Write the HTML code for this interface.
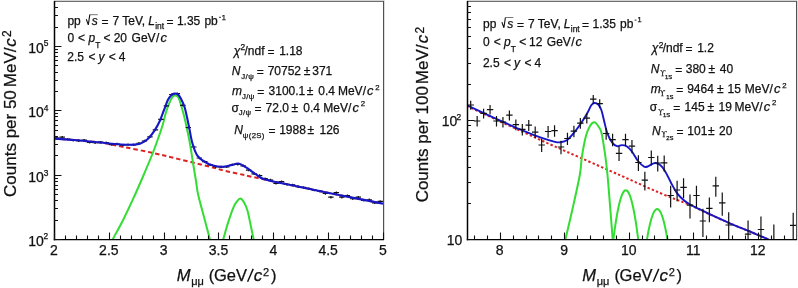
<!DOCTYPE html>
<html><head><meta charset="utf-8"><style>
html,body{margin:0;padding:0;background:#fff;}
body{width:798px;height:288px;overflow:hidden;}
svg{display:block;}
text{-webkit-font-smoothing:antialiased;stroke:#111;stroke-width:0.25px;}
svg{will-change:transform;}
</style></head><body>
<svg width="798" height="288" viewBox="0 0 798 288" font-family='"Liberation Sans", sans-serif' fill="#111">
<rect width="798" height="288" fill="#fff"/>
<defs><clipPath id="cl"><rect x="55" y="2" width="328" height="237"/></clipPath><clipPath id="cr"><rect x="468" y="2" width="328" height="237"/></clipPath></defs>
<g clip-path="url(#cl)" fill="none" stroke-linejoin="round">
<path d="M54.00,138.50 C57.83,138.80 69.33,139.63 77.00,140.30 C84.67,140.97 92.23,141.38 100.00,142.50 C107.77,143.62 114.80,145.27 123.60,147.00 C132.40,148.73 143.77,150.92 152.80,152.90 C161.83,154.88 168.27,156.60 177.80,158.90 C187.33,161.20 202.32,164.75 210.00,166.70 C217.68,168.65 219.03,169.40 223.90,170.60 C228.77,171.80 234.12,172.78 239.20,173.90 C244.28,175.02 244.65,175.20 254.40,177.30 C264.15,179.40 283.43,183.52 297.70,186.50 C311.97,189.48 325.78,192.35 340.00,195.20 C354.22,198.05 375.83,202.20 383.00,203.60" stroke="#dd2222" stroke-width="2" stroke-dasharray="4.4 2.9"/>
<path d="M112.60,239.50 C114.33,236.28 119.60,226.92 123.00,220.20 C126.40,213.48 129.67,206.48 133.00,199.20 C136.33,191.92 139.67,184.28 143.00,176.50 C146.33,168.72 150.38,159.13 153.00,152.50 C155.62,145.87 157.10,141.42 158.75,136.70 C160.40,131.98 161.69,128.28 162.90,124.20 C164.11,120.12 164.95,115.68 166.00,112.20 C167.05,108.72 168.15,105.80 169.20,103.30 C170.25,100.80 171.33,98.48 172.30,97.20 C173.27,95.92 173.97,95.53 175.00,95.60 C176.03,95.67 177.32,95.40 178.50,97.60 C179.68,99.80 181.05,105.23 182.10,108.80 C183.15,112.37 183.98,115.63 184.80,119.00 C185.62,122.37 186.22,125.33 187.00,129.00 C187.78,132.67 188.75,137.00 189.50,141.00 C190.25,145.00 190.83,148.83 191.50,153.00 C192.17,157.17 192.75,161.33 193.50,166.00 C194.25,170.67 195.25,176.33 196.00,181.00 C196.75,185.67 196.67,188.00 198.00,194.00 C199.33,200.00 202.00,209.42 204.00,217.00 C206.00,224.58 209.00,235.75 210.00,239.50" stroke="#33dd33" stroke-width="2"/>
<path d="M223.20,239.50 C224.07,236.52 226.65,227.05 228.40,221.60 C230.15,216.15 232.30,210.13 233.70,206.80 C235.10,203.47 235.70,202.97 236.80,201.60 C237.90,200.23 239.08,198.47 240.30,198.60 C241.52,198.73 242.88,200.32 244.10,202.40 C245.32,204.48 246.45,207.03 247.60,211.10 C248.75,215.17 249.98,222.07 251.00,226.80 C252.02,231.53 253.25,237.38 253.70,239.50" stroke="#33dd33" stroke-width="2"/>
<path d="M54.04,138.19 H59.44 M56.74,136.99 V139.39 M59.52,137.20 H64.92 M62.22,136.00 V138.40 M65.01,139.31 H70.41 M67.71,138.11 V140.51 M70.49,140.21 H75.89 M73.19,139.01 V141.41 M75.97,140.71 H81.37 M78.67,139.51 V141.91 M81.45,140.12 H86.86 M84.16,138.92 V141.32 M86.94,142.30 H92.34 M89.64,141.10 V143.50 M92.42,142.71 H97.82 M95.12,141.51 V143.91 M97.90,142.08 H103.30 M100.60,140.88 V143.28 M103.39,142.58 H108.79 M106.09,141.38 V143.78 M108.87,144.65 H114.27 M111.57,143.45 V145.85 M114.35,144.06 H119.75 M117.05,142.86 V145.26 M119.84,145.11 H125.24 M122.54,143.91 V146.31 M125.32,144.64 H130.72 M128.02,143.44 V145.84 M130.80,144.89 H136.20 M133.50,143.69 V146.09 M136.28,143.24 H141.68 M138.98,142.04 V144.44 M141.77,141.00 H147.17 M144.47,139.80 V142.20 M147.25,136.90 H152.65 M149.95,135.70 V138.10 M152.73,129.80 H158.13 M155.43,128.60 V131.00 M158.22,119.40 H163.62 M160.92,118.20 V120.60 M163.70,105.80 H169.10 M166.40,104.60 V107.00 M169.18,94.50 H174.58 M171.88,93.30 V95.70 M174.67,93.70 H180.07 M177.37,92.50 V94.90 M180.15,105.30 H185.55 M182.85,104.10 V106.50 M185.63,127.50 H191.03 M188.33,126.30 V128.70 M191.12,147.00 H196.51 M193.81,145.80 V148.20 M196.60,158.00 H202.00 M199.30,156.80 V159.20 M202.08,161.65 H207.48 M204.78,160.45 V162.85 M207.56,164.85 H212.96 M210.26,163.65 V166.05 M213.05,166.70 H218.45 M215.75,165.50 V167.90 M218.53,167.07 H223.93 M221.23,165.87 V168.27 M224.01,166.88 H229.41 M226.71,165.68 V168.08 M229.50,164.76 H234.90 M232.20,163.56 V165.96 M234.98,164.29 H240.38 M237.68,163.09 V165.49 M240.46,165.78 H245.86 M243.16,164.58 V166.98 M245.95,170.06 H251.34 M248.65,168.86 V171.26 M251.43,173.79 H256.83 M254.13,172.59 V174.99 M256.91,175.55 H262.31 M259.61,174.35 V176.75 M262.39,178.69 H267.79 M265.09,177.49 V179.89 M267.88,180.04 H273.28 M270.58,178.84 V181.24 M273.36,183.40 H278.76 M276.06,182.20 V184.60 M278.84,181.60 H284.24 M281.54,180.40 V182.80 M284.33,184.44 H289.73 M287.03,183.24 V185.64 M289.81,184.97 H295.21 M292.51,183.77 V186.17 M295.29,186.57 H300.69 M297.99,185.37 V187.77 M300.77,187.46 H306.17 M303.47,186.26 V188.66 M306.26,188.52 H311.66 M308.96,187.32 V189.72 M311.74,190.11 H317.14 M314.44,188.91 V191.31 M317.22,191.24 H322.62 M319.92,190.04 V192.44 M322.71,193.50 H328.11 M325.41,192.30 V194.70 M328.19,197.20 H333.59 M330.89,196.00 V198.40 M333.67,192.70 H339.07 M336.37,191.50 V193.90 M339.16,197.20 H344.56 M341.86,196.00 V198.40 M344.64,195.60 H350.04 M347.34,194.40 V196.80 M350.12,198.75 H355.52 M352.82,197.55 V199.95 M355.61,197.20 H361.00 M358.31,196.00 V198.40 M361.09,200.30 H366.49 M363.79,199.10 V201.50 M366.57,199.80 H371.97 M369.27,198.60 V201.00 M372.05,202.90 H377.45 M374.75,201.70 V204.10 M377.54,201.40 H382.94 M380.24,200.20 V202.60 " stroke="#111" stroke-width="1.2"/>
<path d="M54.00,138.50 C57.83,138.80 69.33,139.63 77.00,140.30 C84.67,140.97 93.67,141.88 100.00,142.50 C106.33,143.12 110.50,143.63 115.00,144.00 C119.50,144.37 123.83,144.60 127.00,144.70 C130.17,144.80 131.83,144.75 134.00,144.60 C136.17,144.45 138.33,144.30 140.00,143.80 C141.67,143.30 142.62,142.47 144.00,141.60 C145.38,140.73 146.55,140.43 148.30,138.60 C150.05,136.77 152.58,133.53 154.50,130.60 C156.42,127.67 158.22,124.43 159.80,121.00 C161.38,117.57 162.63,113.53 164.00,110.00 C165.37,106.47 166.78,102.27 168.00,99.80 C169.22,97.33 170.22,96.23 171.30,95.20 C172.38,94.17 173.42,93.73 174.50,93.60 C175.58,93.47 176.72,93.53 177.80,94.40 C178.88,95.27 179.85,96.62 181.00,98.80 C182.15,100.98 183.38,102.95 184.70,107.50 C186.02,112.05 187.65,120.27 188.90,126.10 C190.15,131.93 190.82,137.63 192.20,142.50 C193.58,147.37 194.97,151.98 197.20,155.30 C199.43,158.62 202.97,160.68 205.60,162.40 C208.23,164.12 210.18,164.87 213.00,165.60 C215.82,166.33 219.53,166.85 222.50,166.80 C225.47,166.75 228.13,165.85 230.80,165.30 C233.47,164.75 235.95,163.15 238.50,163.50 C241.05,163.85 243.22,165.62 246.10,167.40 C248.98,169.18 252.65,172.20 255.80,174.20 C258.95,176.20 258.02,177.35 265.00,179.40 C271.98,181.45 285.20,183.87 297.70,186.50 C310.20,189.13 325.78,192.35 340.00,195.20 C354.22,198.05 375.83,202.20 383.00,203.60" stroke="#1717c6" stroke-width="2.1"/>
</g>
<line x1="54" y1="0.5" x2="384.5" y2="0.5" stroke="#d4d4d4" stroke-width="1"/>
<line x1="54" y1="1.5" x2="384" y2="1.5" stroke="#6e6e6e" stroke-width="1"/>
<line x1="383.6" y1="1" x2="383.6" y2="240" stroke="#505050" stroke-width="1.2"/>
<line x1="54.5" y1="1" x2="54.5" y2="240.3" stroke="#000" stroke-width="1.5"/>
<line x1="53.8" y1="239.6" x2="384" y2="239.6" stroke="#000" stroke-width="1.45"/>
<path d="M54.5,239 V232.5 M65.5,239 V235.5 M76.5,239 V235.5 M87.5,239 V235.5 M98.5,239 V235.5 M109.5,239 V232.5 M120.5,239 V235.5 M131.5,239 V235.5 M142.5,239 V235.5 M153.5,239 V235.5 M164.5,239 V232.5 M175.5,239 V235.5 M186.5,239 V235.5 M197.5,239 V235.5 M208.5,239 V235.5 M218.5,239 V232.5 M229.5,239 V235.5 M240.5,239 V235.5 M251.5,239 V235.5 M262.5,239 V235.5 M273.5,239 V232.5 M284.5,239 V235.5 M295.5,239 V235.5 M306.5,239 V235.5 M317.5,239 V235.5 M328.5,239 V232.5 M339.5,239 V235.5 M350.5,239 V235.5 M361.5,239 V235.5 M372.5,239 V235.5 M383.5,239 V232.5 " stroke="#111" stroke-width="1.1" fill="none"/>
<path d="M54,239.5 H61.5 M54,220.5 H58.0 M54,208.5 H58.0 M54,200.5 H58.0 M54,194.5 H58.0 M54,189.5 H58.0 M54,185.5 H58.0 M54,181.5 H58.0 M54,178.5 H58.0 M54,175.5 H61.5 M54,155.5 H58.0 M54,144.5 H58.0 M54,136.5 H58.0 M54,130.5 H58.0 M54,125.5 H58.0 M54,120.5 H58.0 M54,116.5 H58.0 M54,113.5 H58.0 M54,110.5 H61.5 M54,91.5 H58.0 M54,80.5 H58.0 M54,72.5 H58.0 M54,65.5 H58.0 M54,60.5 H58.0 M54,56.5 H58.0 M54,52.5 H58.0 M54,49.5 H58.0 M54,46.5 H61.5 M54,27.5 H58.0 M54,15.5 H58.0 M54,7.5 H58.0 " stroke="#111" stroke-width="1.1" fill="none"/>
<g clip-path="url(#cr)" fill="none" stroke-linejoin="round">
<path d="M467.00,106.00 C476.33,110.33 506.47,124.42 523.00,132.00 C539.53,139.58 550.03,144.30 566.20,151.50 C582.37,158.70 604.37,168.28 620.00,175.20 C635.63,182.12 648.47,188.10 660.00,193.00 C671.53,197.90 682.87,201.95 689.20,204.60 C695.53,207.25 694.77,207.37 698.00,208.90 C701.23,210.43 703.27,211.38 708.60,213.80 C713.93,216.22 723.10,220.43 730.00,223.40 C736.90,226.37 743.00,228.65 750.00,231.60 C757.00,234.55 768.33,239.52 772.00,241.10" stroke="#dd2222" stroke-width="2" stroke-dasharray="2.4 2.2"/>
<path d="M565.40,239.50 C566.58,234.42 570.10,219.75 572.50,209.00 C574.90,198.25 578.23,183.72 579.80,175.00 C581.37,166.28 580.87,163.23 581.90,156.70 C582.93,150.17 584.65,140.92 586.00,135.80 C587.35,130.68 588.60,128.25 590.00,126.00 C591.40,123.75 592.98,122.22 594.40,122.30 C595.82,122.38 597.28,124.59 598.50,126.50 C599.72,128.41 600.55,128.72 601.70,133.75 C602.85,138.78 604.43,149.82 605.40,156.70 C606.37,163.57 606.73,166.95 607.50,175.00 C608.27,183.05 609.13,194.25 610.00,205.00 C610.87,215.75 612.25,233.75 612.70,239.50" stroke="#33dd33" stroke-width="2"/>
<path d="M613.20,240.69 C613.50,238.45 614.40,231.41 615.00,227.29 C615.60,223.17 616.20,219.39 616.80,215.96 C617.40,212.52 618.00,209.43 618.60,206.69 C619.20,203.94 619.80,201.53 620.40,199.47 C621.00,197.41 621.60,195.70 622.20,194.32 C622.80,192.95 623.40,191.92 624.00,191.23 C624.60,190.54 625.20,190.20 625.80,190.20 C626.40,190.20 627.00,190.54 627.60,191.23 C628.20,191.92 628.80,192.95 629.40,194.32 C630.00,195.70 630.60,197.41 631.20,199.47 C631.80,201.53 632.40,203.94 633.00,206.69 C633.60,209.43 634.20,212.52 634.80,215.96 C635.40,219.39 636.00,223.17 636.60,227.29 C637.20,231.41 638.10,238.45 638.40,240.69" stroke="#33dd33" stroke-width="2"/>
<path d="M646.80,240.37 C647.05,238.98 647.79,234.61 648.29,232.04 C648.78,229.48 649.28,227.14 649.77,225.00 C650.27,222.87 650.76,220.95 651.26,219.24 C651.75,217.54 652.25,216.04 652.74,214.76 C653.24,213.48 653.73,212.41 654.23,211.56 C654.72,210.71 655.22,210.07 655.71,209.64 C656.21,209.21 656.70,209.00 657.20,209.00 C657.70,209.00 658.19,209.21 658.69,209.64 C659.18,210.07 659.68,210.71 660.17,211.56 C660.67,212.41 661.16,213.48 661.66,214.76 C662.15,216.04 662.65,217.54 663.14,219.24 C663.64,220.95 664.13,222.87 664.63,225.00 C665.12,227.14 665.62,229.48 666.11,232.04 C666.61,234.61 667.35,238.98 667.60,240.37" stroke="#33dd33" stroke-width="2"/>
<path d="M467.00,105.30 C470.33,106.87 480.33,111.63 487.00,114.70 C493.67,117.77 501.00,121.05 507.00,123.70 C513.00,126.35 517.33,128.28 523.00,130.60 C528.67,132.92 535.67,135.73 541.00,137.60 C546.33,139.47 551.75,141.02 555.00,141.80 C558.25,142.58 558.47,142.60 560.50,142.30 C562.53,142.00 564.92,141.63 567.20,140.00 C569.48,138.37 571.90,135.28 574.20,132.50 C576.50,129.72 578.83,126.50 581.00,123.30 C583.17,120.10 585.48,116.32 587.20,113.30 C588.92,110.28 590.08,106.92 591.30,105.20 C592.52,103.48 593.33,103.10 594.50,103.00 C595.67,102.90 597.13,103.35 598.30,104.60 C599.47,105.85 600.55,107.85 601.50,110.50 C602.45,113.15 603.02,116.70 604.00,120.50 C604.98,124.30 606.03,129.62 607.40,133.30 C608.77,136.98 610.60,140.45 612.20,142.60 C613.80,144.75 615.40,145.78 617.00,146.20 C618.60,146.62 620.20,145.08 621.80,145.10 C623.40,145.12 624.92,145.23 626.60,146.30 C628.28,147.37 630.00,149.05 631.90,151.50 C633.80,153.95 635.97,158.48 638.00,161.00 C640.03,163.52 642.37,165.73 644.10,166.60 C645.83,167.47 646.82,166.75 648.40,166.20 C649.98,165.65 652.00,163.73 653.60,163.30 C655.20,162.87 656.55,162.97 658.00,163.60 C659.45,164.23 660.85,165.35 662.30,167.10 C663.75,168.85 665.25,171.50 666.70,174.10 C668.15,176.70 669.28,179.53 671.00,182.70 C672.72,185.87 675.00,190.30 677.00,193.10 C679.00,195.90 680.97,197.68 683.00,199.50 C685.03,201.32 686.70,202.50 689.20,204.00 C691.70,205.50 694.77,206.90 698.00,208.50 C701.23,210.10 703.27,211.13 708.60,213.60 C713.93,216.07 723.10,220.32 730.00,223.30 C736.90,226.28 743.00,228.55 750.00,231.50 C757.00,234.45 768.33,239.42 772.00,241.00" stroke="#1717c6" stroke-width="1.9"/>
<path d="M467.50,105.00 H473.90 M470.70,100.70 V109.69 M473.95,121.00 H480.35 M477.15,116.01 V126.52 M480.40,113.30 H486.80 M483.60,108.65 V118.41 M486.85,109.60 H493.25 M490.05,105.11 V114.52 M493.30,121.00 H499.70 M496.50,116.01 V126.52 M499.75,122.00 H506.15 M502.95,116.97 V127.58 M506.20,115.20 H512.60 M509.40,110.47 V120.40 M512.65,124.60 H519.05 M515.85,119.44 V130.33 M519.10,129.40 H525.50 M522.30,124.01 V135.42 M525.55,125.20 H531.95 M528.75,120.01 V130.96 M532.00,132.10 H538.40 M535.20,126.58 V138.29 M538.45,145.00 H544.85 M541.65,138.79 V152.06 M544.90,131.50 H551.30 M548.10,126.01 V137.65 M551.35,130.60 H557.75 M554.55,125.15 V136.69 M557.80,147.00 H564.20 M561.00,140.67 V154.21 M564.25,138.50 H570.65 M567.45,132.64 V145.11 M570.70,131.20 H577.10 M573.90,125.72 V137.33 M577.15,123.20 H583.55 M580.35,118.11 V128.85 M583.60,118.20 H590.00 M586.80,113.34 V123.57 M590.05,99.20 H596.45 M593.25,95.12 V103.63 M596.50,103.60 H602.90 M599.70,99.35 V108.23 M602.95,133.50 H609.35 M606.15,127.90 V139.77 M609.40,139.60 H615.80 M612.60,133.68 V146.28 M615.85,153.30 H622.25 M619.05,146.60 V161.00 M622.30,139.60 H628.70 M625.50,133.68 V146.28 M628.75,146.20 H635.15 M631.95,139.92 V153.35 M635.20,162.50 H641.60 M638.40,155.22 V170.98 M641.65,180.20 H648.05 M644.85,171.67 V190.42 M648.10,157.50 H654.50 M651.30,150.54 V165.54 M654.55,163.00 H660.95 M657.75,155.68 V171.52 M661.00,162.90 H667.40 M664.20,155.59 V171.41 M667.45,195.50 H673.85 M670.65,185.73 V207.56 M673.90,190.00 H680.30 M677.10,180.69 V201.36 M680.35,187.30 H686.75 M683.55,178.21 V198.33 M686.80,205.20 H693.20 M690.00,194.56 V218.61 M693.25,195.50 H699.65 M696.45,185.73 V207.56 M699.70,221.00 H706.10 M702.90,208.80 V236.99 M706.15,208.40 H712.55 M709.35,197.46 V222.29 M712.60,185.80 H719.00 M715.80,176.83 V196.66 M719.05,202.80 H725.45 M722.25,192.38 V215.86 M725.50,225.00 H731.90 M728.70,212.37 V239.00 M744.85,234.20 H751.25 M748.05,220.54 V239.00 M757.75,229.50 H764.15 M760.95,216.38 V239.00 M773.85,224.5 V239 M790.00,225.30 H796.40 M793.20,212.64 V239.00 " stroke="#111" stroke-width="1.2"/>
</g>
<line x1="467" y1="0.5" x2="797.5" y2="0.5" stroke="#d4d4d4" stroke-width="1"/>
<line x1="467" y1="1.5" x2="797" y2="1.5" stroke="#6e6e6e" stroke-width="1"/>
<line x1="796.6" y1="1" x2="796.6" y2="240" stroke="#505050" stroke-width="1.2"/>
<line x1="467.5" y1="1" x2="467.5" y2="240.3" stroke="#000" stroke-width="1.5"/>
<line x1="466.8" y1="239.6" x2="797" y2="239.6" stroke="#000" stroke-width="1.45"/>
<path d="M474.5,239 V235.5 M487.5,239 V235.5 M500.5,239 V232.5 M513.5,239 V235.5 M526.5,239 V235.5 M538.5,239 V235.5 M551.5,239 V235.5 M564.5,239 V232.5 M577.5,239 V235.5 M590.5,239 V235.5 M603.5,239 V235.5 M616.5,239 V235.5 M629.5,239 V232.5 M642.5,239 V235.5 M654.5,239 V235.5 M667.5,239 V235.5 M680.5,239 V235.5 M693.5,239 V232.5 M706.5,239 V235.5 M719.5,239 V235.5 M732.5,239 V235.5 M745.5,239 V235.5 M758.5,239 V232.5 M771.5,239 V235.5 M784.5,239 V235.5 " stroke="#111" stroke-width="1.1" fill="none"/>
<path d="M467,239.5 H474.5 M467,203.5 H471.0 M467,182.5 H471.0 M467,167.5 H471.0 M467,156.5 H471.0 M467,146.5 H471.0 M467,138.5 H471.0 M467,131.5 H471.0 M467,125.5 H471.0 M467,120.5 H474.5 M467,84.5 H471.0 M467,63.5 H471.0 M467,48.5 H471.0 M467,36.5 H471.0 M467,27.5 H471.0 M467,19.5 H471.0 M467,12.5 H471.0 M467,6.5 H471.0 " stroke="#111" stroke-width="1.1" fill="none"/>
<text x="54.00" y="254.50" font-size="14" text-anchor="middle">2</text>
<text x="108.83" y="254.50" font-size="14" text-anchor="middle">2.5</text>
<text x="163.67" y="254.50" font-size="14" text-anchor="middle">3</text>
<text x="218.50" y="254.50" font-size="14" text-anchor="middle">3.5</text>
<text x="273.33" y="254.50" font-size="14" text-anchor="middle">4</text>
<text x="328.17" y="254.50" font-size="14" text-anchor="middle">4.5</text>
<text x="383.00" y="254.50" font-size="14" text-anchor="middle">5</text>
<text x="499.70" y="254.50" font-size="14" text-anchor="middle">8</text>
<text x="564.20" y="254.50" font-size="14" text-anchor="middle">9</text>
<text x="628.70" y="254.50" font-size="14" text-anchor="middle">10</text>
<text x="693.20" y="254.50" font-size="14" text-anchor="middle">11</text>
<text x="757.70" y="254.50" font-size="14" text-anchor="middle">12</text>
<text x="67.43" y="24.90" font-size="12">pp</text>
<path d="M86.30,19.30 L88.30,24.90 L89.80,14.70" fill="none" stroke="#111" stroke-width="1.1" stroke-linejoin="miter"/>
<path d="M89.60,14.70 H97.80" stroke="#555" stroke-width="0.8"/>
<text x="91.67" y="24.90" font-size="12" font-style="italic">s</text>
<text x="101.51" y="25.90" font-size="12">=</text>
<text x="112.48" y="24.90" font-size="12">7</text>
<text x="122.23" y="24.90" font-size="12">TeV,</text>
<text x="148.13" y="24.90" font-size="12" font-style="italic">L</text>
<text x="155.24" y="28.90" font-size="8.4">int</text>
<text x="166.41" y="25.90" font-size="12">=</text>
<text x="176.89" y="24.90" font-size="12">1.35</text>
<text x="204.43" y="24.90" font-size="12">pb</text>
<path d="M219.10,17.30 H220.90" stroke="#111" stroke-width="0.9"/>
<text x="221.84" y="19.60" font-size="7.4">1</text>
<text x="67.43" y="41.70" font-size="12">0</text>
<text x="78.08" y="41.70" font-size="12">&lt;</text>
<text x="88.40" y="41.70" font-size="12" font-style="italic">p</text>
<text x="95.21" y="47.90" font-size="8.4">T</text>
<text x="103.58" y="41.70" font-size="12">&lt;</text>
<text x="113.70" y="41.70" font-size="12">20</text>
<text x="131.60" y="41.70" font-size="12">GeV</text>
<text x="156.00" y="41.70" font-size="12">/</text>
<text x="160.38" y="41.70" font-size="12.96" font-style="italic">c</text>
<text x="67.30" y="61.20" font-size="12">2.5</text>
<text x="88.38" y="61.20" font-size="12">&lt;</text>
<text x="98.48" y="61.20" font-size="12" font-style="italic">y</text>
<text x="108.78" y="61.20" font-size="12">&lt;</text>
<text x="118.82" y="61.20" font-size="12">4</text>
<text x="483.03" y="27.70" font-size="12">pp</text>
<path d="M501.90,22.10 L503.90,27.70 L505.40,17.50" fill="none" stroke="#111" stroke-width="1.1" stroke-linejoin="miter"/>
<path d="M505.20,17.50 H513.40" stroke="#555" stroke-width="0.8"/>
<text x="507.27" y="27.70" font-size="12" font-style="italic">s</text>
<text x="517.11" y="28.70" font-size="12">=</text>
<text x="528.08" y="27.70" font-size="12">7</text>
<text x="537.83" y="27.70" font-size="12">TeV,</text>
<text x="563.73" y="27.70" font-size="12" font-style="italic">L</text>
<text x="570.84" y="31.70" font-size="8.4">int</text>
<text x="582.01" y="28.70" font-size="12">=</text>
<text x="592.49" y="27.70" font-size="12">1.35</text>
<text x="620.03" y="27.70" font-size="12">pb</text>
<path d="M634.70,20.10 H636.50" stroke="#111" stroke-width="0.9"/>
<text x="637.44" y="22.40" font-size="7.4">1</text>
<text x="483.03" y="46.00" font-size="12">0</text>
<text x="493.68" y="46.00" font-size="12">&lt;</text>
<text x="504.00" y="46.00" font-size="12" font-style="italic">p</text>
<text x="510.81" y="52.20" font-size="8.4">T</text>
<text x="519.18" y="46.00" font-size="12">&lt;</text>
<text x="528.99" y="46.00" font-size="12">12</text>
<text x="546.80" y="46.00" font-size="12">GeV</text>
<text x="571.20" y="46.00" font-size="12">/</text>
<text x="575.58" y="46.00" font-size="12.96" font-style="italic">c</text>
<text x="482.90" y="66.70" font-size="12">2.5</text>
<text x="503.98" y="66.70" font-size="12">&lt;</text>
<text x="514.08" y="66.70" font-size="12" font-style="italic">y</text>
<text x="524.38" y="66.70" font-size="12">&lt;</text>
<text x="534.42" y="66.70" font-size="12">4</text>
<text x="233.67" y="54.50" font-size="12" font-style="italic">χ</text>
<text x="240.58" y="50.00" font-size="8.4">2</text>
<text x="244.50" y="54.50" font-size="12">/ndf</text>
<text x="267.51" y="55.50" font-size="12">=</text>
<text x="279.19" y="54.50" font-size="12">1.18</text>
<text x="231.83" y="75.00" font-size="12" font-style="italic">N</text>
<text x="241.28" y="78.70" font-size="7.8" letter-spacing="0.4">J/ψ</text>
<text x="256.81" y="76.00" font-size="12">=</text>
<text x="267.68" y="75.00" font-size="12">70752</text>
<text x="303.72" y="75.00" font-size="12">±</text>
<text x="312.24" y="75.00" font-size="12">371</text>
<text x="232.00" y="95.00" font-size="12" font-style="italic">m</text>
<text x="241.88" y="98.70" font-size="7.8" letter-spacing="0.4">J/ψ</text>
<text x="257.31" y="96.00" font-size="12">=</text>
<text x="268.54" y="95.00" font-size="12">3100.1</text>
<text x="306.82" y="95.00" font-size="12">±</text>
<text x="318.28" y="95.00" font-size="12">0.4</text>
<text x="337.92" y="95.00" font-size="12">MeV</text>
<text x="362.70" y="95.00" font-size="12">/</text>
<text x="367.08" y="95.00" font-size="12.96" font-style="italic">c</text>
<text x="375.31" y="89.80" font-size="7.8">2</text>
<text x="231.40" y="111.50" font-size="12">σ</text>
<text x="238.68" y="115.20" font-size="7.8" letter-spacing="0.4">J/ψ</text>
<text x="254.51" y="112.50" font-size="12">=</text>
<text x="265.58" y="111.50" font-size="12">72.0</text>
<text x="291.52" y="111.50" font-size="12">±</text>
<text x="303.33" y="111.50" font-size="12">0.4</text>
<text x="323.32" y="111.50" font-size="12">MeV</text>
<text x="348.10" y="111.50" font-size="12">/</text>
<text x="352.48" y="111.50" font-size="12.96" font-style="italic">c</text>
<text x="360.71" y="106.30" font-size="7.8">2</text>
<text x="234.33" y="134.00" font-size="12" font-style="italic">N</text>
<text x="242.79" y="137.90" font-size="7.8" letter-spacing="0.35">ψ(2S)</text>
<text x="268.41" y="135.00" font-size="12">=</text>
<text x="279.19" y="134.00" font-size="12">1988</text>
<text x="307.52" y="134.00" font-size="12">±</text>
<text x="319.49" y="134.00" font-size="12">126</text>
<text x="651.87" y="52.30" font-size="12" font-style="italic">χ</text>
<text x="658.78" y="47.80" font-size="8.4">2</text>
<text x="662.70" y="52.30" font-size="12">/ndf</text>
<text x="685.51" y="53.30" font-size="12">=</text>
<text x="697.19" y="52.30" font-size="12">1.2</text>
<text x="650.73" y="72.60" font-size="12" font-style="italic">N</text>
<text x="660.05" y="75.80" font-size="7.2" font-family="Liberation Serif, serif">ϒ</text>
<text x="664.95" y="78.70" font-size="5.9">1S</text>
<text x="675.31" y="73.60" font-size="12">=</text>
<text x="685.74" y="72.60" font-size="12">380</text>
<text x="708.62" y="72.60" font-size="12">±</text>
<text x="719.82" y="72.60" font-size="12">40</text>
<text x="650.70" y="93.10" font-size="12" font-style="italic">m</text>
<text x="659.85" y="96.30" font-size="7.2" font-family="Liberation Serif, serif">ϒ</text>
<text x="666.15" y="98.80" font-size="5.9">1S</text>
<text x="676.31" y="94.10" font-size="12">=</text>
<text x="687.14" y="93.10" font-size="12">9464</text>
<text x="717.02" y="93.10" font-size="12">±</text>
<text x="727.59" y="93.10" font-size="12">15</text>
<text x="744.82" y="93.10" font-size="12">MeV</text>
<text x="769.60" y="93.10" font-size="12">/</text>
<text x="773.98" y="93.10" font-size="12.96" font-style="italic">c</text>
<text x="782.21" y="87.90" font-size="7.8">2</text>
<text x="649.70" y="110.60" font-size="12">σ</text>
<text x="658.05" y="114.60" font-size="7.2" font-family="Liberation Serif, serif">ϒ</text>
<text x="662.95" y="117.40" font-size="5.9">1S</text>
<text x="673.21" y="111.60" font-size="12">=</text>
<text x="684.59" y="110.60" font-size="12">145</text>
<text x="707.62" y="110.60" font-size="12">±</text>
<text x="718.59" y="110.60" font-size="12">19</text>
<text x="734.52" y="110.60" font-size="12">MeV</text>
<text x="759.30" y="110.60" font-size="12">/</text>
<text x="763.68" y="110.60" font-size="12.96" font-style="italic">c</text>
<text x="771.91" y="105.40" font-size="7.8">2</text>
<text x="651.88" y="134.50" font-size="12" font-style="italic">N</text>
<text x="661.15" y="136.60" font-size="7.2" font-family="Liberation Serif, serif">ϒ</text>
<text x="666.30" y="139.60" font-size="5.9">2S</text>
<text x="676.41" y="135.50" font-size="12">=</text>
<text x="687.29" y="134.50" font-size="12">101</text>
<text x="708.12" y="134.50" font-size="12">±</text>
<text x="719.00" y="134.50" font-size="12">20</text>
<text x="28.33" y="245.50" font-size="14">10</text>
<text x="43.58" y="239.30" font-size="8.4">2</text>
<text x="28.33" y="181.90" font-size="14">10</text>
<text x="43.68" y="175.70" font-size="8.4">3</text>
<text x="28.33" y="116.90" font-size="14">10</text>
<text x="43.81" y="110.70" font-size="8.4">4</text>
<text x="28.33" y="52.50" font-size="14">10</text>
<text x="43.66" y="46.30" font-size="8.4">5</text>
<text x="446.63" y="245.10" font-size="14">10</text>
<text x="441.73" y="126.00" font-size="14">10</text>
<text x="456.38" y="119.90" font-size="8.4">2</text>
<text x="176.69" y="281.10" font-size="16.5" font-style="italic">M</text>
<text x="191.16" y="285.10" font-size="11">μμ</text>
<text x="208.78" y="281.10" font-size="16.5">(</text>
<text x="213.97" y="281.10" font-size="16.5">GeV</text>
<path d="M247.60,281.70 L253.20,268.90" stroke="#111" stroke-width="1.45"/>
<text x="253.84" y="281.10" font-size="17" font-style="italic">c</text>
<text x="263.05" y="275.70" font-size="11">2</text>
<text x="271.00" y="281.10" font-size="16.5">)</text>
<text x="582.29" y="281.10" font-size="16.5" font-style="italic">M</text>
<text x="596.76" y="285.10" font-size="11">μμ</text>
<text x="614.38" y="281.10" font-size="16.5">(</text>
<text x="619.57" y="281.10" font-size="16.5">GeV</text>
<path d="M653.20,281.70 L658.80,268.90" stroke="#111" stroke-width="1.45"/>
<text x="659.44" y="281.10" font-size="17" font-style="italic">c</text>
<text x="668.65" y="275.70" font-size="11">2</text>
<text x="676.60" y="281.10" font-size="16.5">)</text>
<text transform="translate(15.80,196.96) rotate(-90)" font-size="17">Counts per 50</text>
<text transform="translate(15.80,87.19) rotate(-90)" font-size="17">MeV/</text>
<text transform="translate(15.80,46.86) rotate(-90)" font-size="17" font-style="italic">c</text>
<text transform="translate(11.30,37.00) rotate(-90)" font-size="12">2</text>
<text transform="translate(428.30,202.36) rotate(-90)" font-size="17">Counts per 100</text>
<text transform="translate(428.30,84.19) rotate(-90)" font-size="17">MeV/</text>
<text transform="translate(428.30,43.31) rotate(-90)" font-size="17" font-style="italic">c</text>
<text transform="translate(423.80,33.50) rotate(-90)" font-size="12">2</text>
</svg>
</body></html>
